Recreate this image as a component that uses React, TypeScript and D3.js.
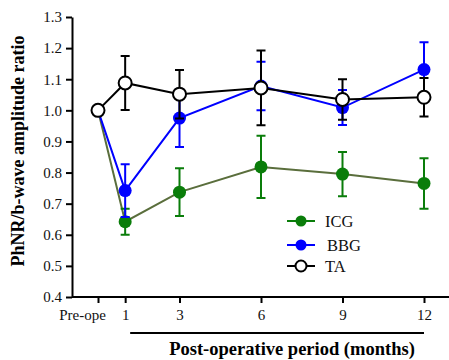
import * as d3 from "d3";
import { useEffect, useRef } from "react";

// months after surgery, 0 = pre-operative
const months = [0, 1, 3, 6, 9, 12];
const tickLabels = ["Pre-ope", "1", "3", "6", "9", "12"];

const icgMean = [1.0, 0.642, 0.737, 0.818, 0.795, 0.765];
const icgErr = [0, 0.042, 0.077, 0.1, 0.071, 0.081];

const bbgMean = [1.0, 0.742, 0.975, 1.078, 1.009, 1.131];
const bbgErr = [0, 0.085, 0.093, 0.078, 0.056, 0.088];

const taMean = [1.0, 1.088, 1.052, 1.072, 1.035, 1.042];
const taErr = [0, 0.087, 0.078, 0.12, 0.065, 0.062];

const yTicks = [0.4, 0.5, 0.6, 0.7, 0.8, 0.9, 1.0, 1.1, 1.2, 1.3];

export default function App() {
    const ref = useRef<SVGSVGElement>(null);

    useEffect(() => {
        const svg = d3.select(ref.current);
        svg.selectAll("*").remove();

        const font = "'Liberation Serif', 'Times New Roman', serif";

        const x = d3.scaleLinear().domain([0, 12]).range([98, 424]);
        const y = d3.scaleLinear().domain([0.4, 1.3]).range([297, 17]);

        // Axes
        const yAxis = svg.append("g")
            .attr("transform", "translate(72,0)")
            .call(d3.axisLeft(y).tickValues(yTicks).tickFormat(d3.format(".1f")).tickSize(6).tickSizeOuter(0).tickPadding(4));
        yAxis.select(".domain").attr("stroke-width", 2);
        yAxis.selectAll("line").attr("stroke-width", 2);
        yAxis.selectAll("text").attr("font-family", font).attr("font-size", 15).attr("fill", "#111");

        const xAxis = svg.append("g")
            .attr("transform", "translate(0,297)")
            .call(d3.axisBottom(x).tickValues(months).tickFormat((d, i) => tickLabels[i]).tickSize(6).tickSizeOuter(0).tickPadding(6));
        xAxis.select(".domain").attr("d", `M72,0H449`).attr("stroke-width", 2);
        xAxis.selectAll("line").attr("stroke-width", 2);
        xAxis.selectAll("text").attr("font-family", font).attr("font-size", 15).attr("fill", "#111");
        xAxis.selectAll("text").filter((d) => d === 0).attr("dx", -16);

        // Bracket under post-op months
        svg.append("line")
            .attr("x1", x(1) + 5).attr("x2", x(12))
            .attr("y1", 333).attr("y2", 333)
            .attr("stroke", "#000").attr("stroke-width", 2);

        svg.append("text")
            .attr("x", 292).attr("y", 355)
            .attr("text-anchor", "middle")
            .attr("font-family", font).attr("font-weight", "bold").attr("font-size", 18.5)
            .text("Post-operative period (months)");

        svg.append("text")
            .attr("transform", `translate(24,151) rotate(-90)`)
            .attr("text-anchor", "middle")
            .attr("font-family", font).attr("font-weight", "bold").attr("font-size", 18)
            .text("PhNR/b-wave amplitude ratio");

        const series = [
            { mean: icgMean, err: icgErr, line: "#5a6e3c", mark: "#0a7d0a", fill: "#0a7d0a" },
            { mean: bbgMean, err: bbgErr, line: "#0000ff", mark: "#0000ff", fill: "#0000ff" },
            { mean: taMean, err: taErr, line: "#000", mark: "#000", fill: "#fff" },
        ];

        const line = d3.line<number>().x((d, i) => x(months[i])).y((d) => y(d));

        series.forEach((s) => {
            const g = svg.append("g");
            g.append("path")
                .attr("d", line(s.mean))
                .attr("fill", "none")
                .attr("stroke", s.line)
                .attr("stroke-width", 2);

            const bars = months.map((m, i) => ({ m, v: s.mean[i], e: s.err[i] })).filter((d) => d.e > 0);
            g.selectAll("path.err")
                .data(bars)
                .join("path")
                .attr("class", "err")
                .attr("d", (d) => {
                    const cx = x(d.m);
                    const t = y(d.v + d.e);
                    const b = y(d.v - d.e);
                    return `M${cx},${t}V${b}M${cx - 4.5},${t}H${cx + 4.5}M${cx - 4.5},${b}H${cx + 4.5}`;
                })
                .attr("fill", "none")
                .attr("stroke", s.mark)
                .attr("stroke-width", 2);

            g.selectAll("circle")
                .data(s.mean)
                .join("circle")
                .attr("cx", (d, i) => x(months[i]))
                .attr("cy", (d) => y(d))
                .attr("r", 6.5)
                .attr("fill", s.fill)
                .attr("stroke", s.mark)
                .attr("stroke-width", s.fill === "#fff" ? 2 : 0);
        });

        // Legend
        const names = ["ICG", "BBG", "TA"];
        const legendY = [221, 245, 266];
        const legendDx = [38, 40, 38];
        series.forEach((s, i) => {
            const lg = svg.append("g").attr("transform", `translate(287,${legendY[i]})`);
            lg.append("line").attr("x1", 0).attr("x2", 28).attr("stroke", s.mark).attr("stroke-width", 2);
            lg.append("circle").attr("cx", 14).attr("r", 5.5).attr("fill", s.fill)
                .attr("stroke", s.mark).attr("stroke-width", s.fill === "#fff" ? 2 : 0);
            lg.append("text").attr("x", legendDx[i]).attr("y", 6)
                .attr("font-family", font).attr("font-size", 16.5).attr("fill", "#111")
                .text(names[i]);
        });
    }, []);

    return (
        <svg ref={ref} width={449} height={360} style={{ position: "absolute", left: 0, top: 0 }}></svg>
    );
}
